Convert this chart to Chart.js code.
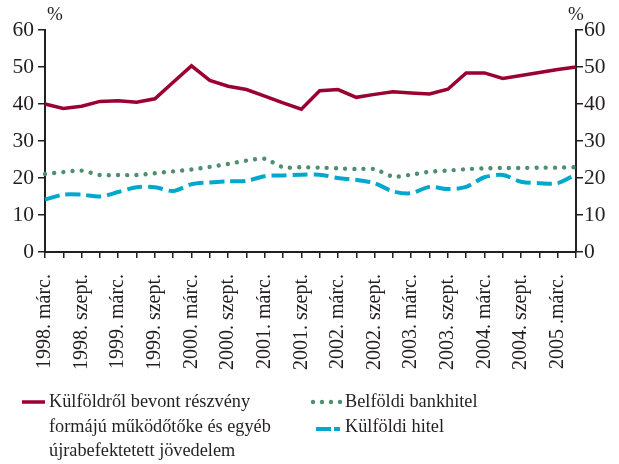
<!DOCTYPE html>
<html>
<head>
<meta charset="utf-8">
<script src="https://cdn.jsdelivr.net/npm/chart.js@4.4.1/dist/chart.umd.min.js"></script>
<style>
  html, body { margin: 0; padding: 0; background: #fff; }
  #wrap { position: relative; width: 619px; height: 464px; overflow: hidden; font-family: "Liberation Serif", "Times New Roman", serif; color: #231f20; }
  #chartBox { position: absolute; left: 0; top: 0; width: 619px; height: 464px; }
  .pct { position: absolute; top: 3px; font-size: 19px; }
  .leg { position: absolute; font-size: 18.3px; line-height: 24.5px; white-space: nowrap; }
  svg.sample { position: absolute; }
</style>
</head>
<body>
<div id="wrap">
  <div id="chartBox"><canvas id="c" width="619" height="464"></canvas></div>
  <div class="pct" style="left:47px;">%</div>
  <div class="pct" style="left:568px;">%</div>

  <svg class="sample" style="left:20px;top:396px;" width="30" height="12">
    <line x1="2" y1="6" x2="25" y2="6" stroke="#9b0033" stroke-width="3.5"/>
  </svg>
  <div class="leg" style="left:49px;top:389px;">Külföldről bevont részvény<br>formájú működőtőke és egyéb<br>újrabefektetett jövedelem</div>

  <svg class="sample" style="left:308px;top:396px;" width="40" height="12">
    <g fill="#4f8f70"><circle cx="5" cy="6" r="2.2"/><circle cx="14" cy="6" r="2.2"/><circle cx="23" cy="6" r="2.2"/><circle cx="32" cy="6" r="2.2"/></g>
  </svg>
  <div class="leg" style="left:345px;top:389px;">Belföldi bankhitel</div>

  <svg class="sample" style="left:312px;top:423px;" width="34" height="12">
    <line x1="4" y1="6" x2="19" y2="6" stroke="#00a9cc" stroke-width="4"/>
    <line x1="22" y1="6" x2="28" y2="6" stroke="#00a9cc" stroke-width="4"/>
  </svg>
  <div class="leg" style="left:345px;top:414px;">Külföldi hitel</div>
</div>
<script>
// Quarterly categories, 1998 Q1 – 2005 Q2 (labels shown every other quarter)
const categories = [
  "1998. márc.", "", "1998. szept.", "", "1999. márc.", "", "1999. szept.", "",
  "2000. márc.", "", "2000. szept.", "", "2001. márc.", "", "2001. szept.", "",
  "2002. márc.", "", "2002. szept.", "", "2003. márc.", "", "2003. szept.", "",
  "2004. márc.", "", "2004. szept.", "", "2005 .márc.", ""
];

const equityFDI = [
  40.0, 38.8, 39.4, 40.7, 40.9, 40.5, 41.4, 45.9, 50.3, 46.4,
  44.8, 43.9, 42.1, 40.3, 38.6, 43.6, 43.9, 41.8, 42.6, 43.3,
  43.0, 42.7, 44.0, 48.4, 48.4, 46.9, 47.7, 48.5, 49.3, 50.0
];

const domesticBankLoans = [
  21.1, 21.6, 22.0, 20.8, 20.8, 20.8, 21.3, 21.8, 22.3, 23.0,
  23.8, 24.7, 25.2, 22.9, 22.9, 22.8, 22.6, 22.4, 22.4, 20.4,
  20.9, 21.7, 22.0, 22.4, 22.6, 22.7, 22.7, 22.8, 22.8, 22.9
];

const foreignLoans = [
  14.2, 15.5, 15.5, 15.0, 16.2, 17.5, 17.5, 16.5, 18.3, 18.8,
  19.1, 19.2, 20.5, 20.7, 20.9, 20.9, 20.0, 19.5, 18.6, 16.4,
  15.9, 17.6, 17.0, 17.6, 20.2, 20.8, 19.0, 18.6, 18.6, 21.0
];

const yTicks = [0, 10, 20, 30, 40, 50, 60];

const ink = "#231f20";
const xFont = { family: "'Liberation Serif', 'Times New Roman', serif", size: 20 };
const yFont = { family: "'Liberation Serif', 'Times New Roman', serif", size: 21.5 };

new Chart(document.getElementById("c"), {
  type: "line",
  data: {
    labels: categories,
    datasets: [
      {
        label: "Külföldről bevont részvény formájú működőtőke és egyéb újrabefektetett jövedelem",
        data: equityFDI,
        borderColor: "#9b0033",
        borderWidth: 3.5,
        pointRadius: 0,
        tension: 0,
        yAxisID: "y"
      },
      {
        label: "Belföldi bankhitel",
        data: domesticBankLoans,
        borderColor: "#4f8f70",
        borderWidth: 4.4,
        borderDash: [0.01, 9.2],
        borderCapStyle: "round",
        pointRadius: 0,
        tension: 0.25,
        yAxisID: "y"
      },
      {
        label: "Külföldi hitel",
        data: foreignLoans,
        borderColor: "#00a9cc",
        borderWidth: 4,
        borderDash: [15, 6],
        pointRadius: 0,
        tension: 0.3,
        yAxisID: "y"
      }
    ]
  },
  options: {
    responsive: false,
    animation: false,
    devicePixelRatio: 1,
    layout: { padding: { top: 30, left: 0, right: 0, bottom: 0 } },
    plugins: { legend: { display: false }, tooltip: { enabled: false } },
    scales: {
      x: {
        type: "category",
        offset: false,
        afterFit: (s) => { s.height = 212; },
        grid: { display: true, drawOnChartArea: false, drawTicks: true, tickLength: 6, color: ink, lineWidth: 1.5 },
        border: { display: true, color: ink, width: 2 },
        ticks: {
          autoSkip: false, maxRotation: 90, minRotation: 90, padding: 16,
          color: ink, font: xFont
        }
      },
      y: {
        position: "left",
        min: 0, max: 60,
        afterFit: (s) => { s.width = 45; },
        afterBuildTicks: (s) => { s.ticks = yTicks.map(v => ({ value: v })); },
        grid: { display: true, drawOnChartArea: false, drawTicks: true, tickLength: 7, color: ink, lineWidth: 1.5 },
        border: { display: true, color: ink, width: 2 },
        ticks: { padding: 4, color: ink, font: yFont }
      },
      y2: {
        position: "right",
        min: 0, max: 60,
        afterFit: (s) => { s.width = 43; },
        afterBuildTicks: (s) => { s.ticks = yTicks.map(v => ({ value: v })); },
        grid: { display: true, drawOnChartArea: false, drawTicks: true, tickLength: 7, color: ink, lineWidth: 1.5 },
        border: { display: true, color: ink, width: 2 },
        ticks: { padding: 1, color: ink, font: yFont }
      }
    }
  }
});
</script>
</body>
</html>
